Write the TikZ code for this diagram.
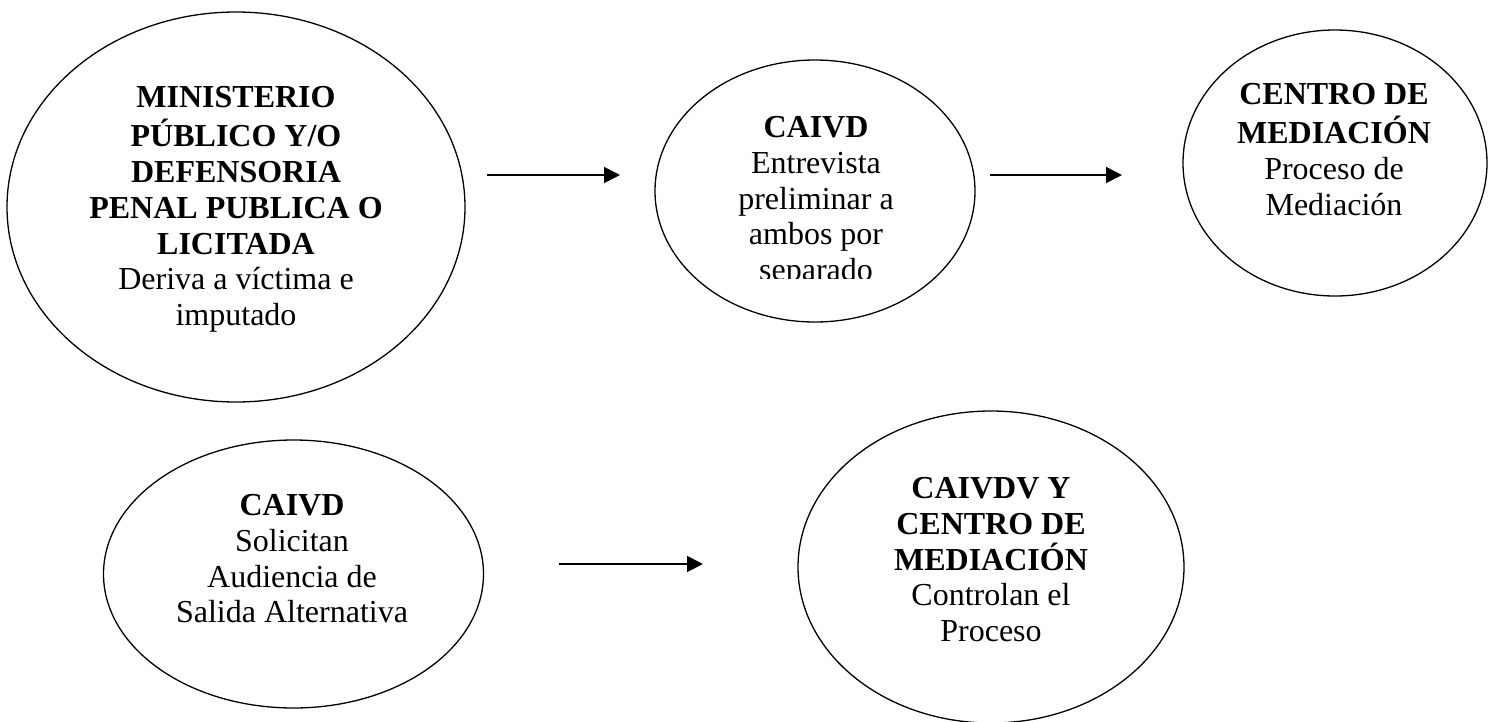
\documentclass[tikz,border=0pt]{standalone}
\usepackage{fontspec}
\setmainfont{Liberation Serif}
\usetikzlibrary{arrows.meta,shapes.geometric}
\tikzset{
  oval/.style={draw=black, line width=1.3pt, ellipse, inner sep=0pt},
  label text/.style={align=center, inner sep=0pt, anchor=north,
    font=\fontsize{32}{35.8}\selectfont},
  flow/.style={line width=1.8pt, -{Triangle[length=16pt,width=16pt]}}
}
\begin{document}
\begin{tikzpicture}[x=1pt,y=-1pt]
\useasboundingbox[fill=white] (0,0) rectangle (1494,721);
% ellipses
\node[oval, minimum width=458pt, minimum height=390pt] (e1) at (236,207) {};
\node[oval, minimum width=320pt, minimum height=262pt] (e2) at (815,191) {};
\node[oval, minimum width=304pt, minimum height=266pt] (e3) at (1335,163) {};
\node[oval, minimum width=380pt, minimum height=268pt] (e4) at (293.5,574) {};
\node[oval, minimum width=386pt, minimum height=312pt] (e5) at (991,567) {};
% texts
\node[label text] (t1) at (236,82.2) {\strut\textbf{MINISTERIO}\\\textbf{PÚBLICO Y/O}\\\textbf{DEFENSORIA}\\\textbf{PENAL PUBLICA O}\\\textbf{LICITADA}\\Deriva a víctima e\\imputado};
\begin{scope}
\clip (640,40) rectangle (1000,278);
\node[label text] (t2) at (816,112.2) {\strut\textbf{CAIVD}\\Entrevista\\preliminar a\\ambos por\\separado};
\end{scope}
\node[label text] (t3) at (1334,79.2) {\strut\textbf{CENTRO DE}\\\textbf{MEDIACIÓN}\\Proceso de\\Mediación};
\node[label text] (t4) at (292,490.2) {\strut\textbf{CAIVD}\\Solicitan\\Audiencia de\\Salida Alternativa};
\node[label text] (t5) at (991,473.2) {\strut\textbf{CAIVDV Y}\\\textbf{CENTRO DE}\\\textbf{MEDIACIÓN}\\Controlan el\\Proceso};
% arrows
\coordinate (a1s) at (487,175);
\coordinate (a1e) at (620,175);
\coordinate (a2s) at (990,175);
\coordinate (a2e) at (1122,175);
\coordinate (a3s) at (559,564);
\coordinate (a3e) at (703,564);
\draw[flow] (a1s) -- (a1e);
\draw[flow] (a2s) -- (a2e);
\draw[flow] (a3s) -- (a3e);
\end{tikzpicture}
\end{document}
